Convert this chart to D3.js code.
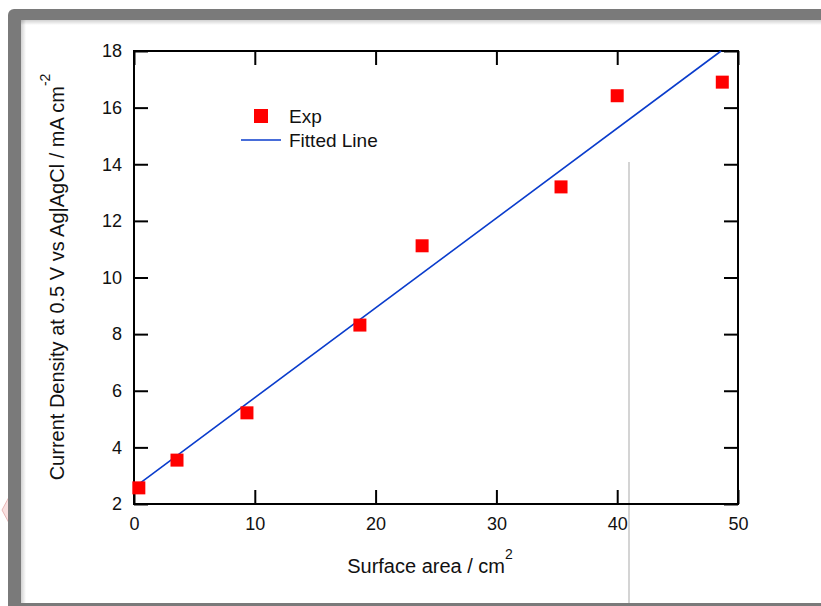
<!DOCTYPE html>
<html>
<head>
<meta charset="utf-8">
<script src="https://cdn.jsdelivr.net/npm/d3@7"></script>
<style>
  body { margin: 0; background: #fff; }
  svg { display: block; font-family: "Liberation Sans", Arial, sans-serif; }
</style>
</head>
<body>
<script>
// data
var areaX = [0.4, 3.56, 9.35, 18.7, 23.85, 35.35, 40.0, 48.7];
var currentY = [2.57, 3.55, 5.22, 8.32, 11.12, 13.2, 16.42, 16.9];
var fitX = [0.5, 48.6];
var fitY = [2.74, 18.0];
var xTicks = [0, 10, 20, 30, 40, 50];
var yTicks = [2, 4, 6, 8, 10, 12, 14, 16, 18];

var width = 821, height = 606;
var plotL = 134, plotR = 738, plotT = 51, plotB = 504;

var svg = d3.select("body").append("svg")
    .attr("width", width)
    .attr("height", height);

var defs = svg.append("defs");
var gTop = defs.append("linearGradient").attr("id", "shTop").attr("x1", 0).attr("y1", 0).attr("x2", 0).attr("y2", 1);
gTop.append("stop").attr("offset", "0%").attr("stop-color", "#000").attr("stop-opacity", 0.18);
gTop.append("stop").attr("offset", "100%").attr("stop-color", "#000").attr("stop-opacity", 0);
var gLeft = defs.append("linearGradient").attr("id", "shLeft").attr("x1", 0).attr("y1", 0).attr("x2", 1).attr("y2", 0);
gLeft.append("stop").attr("offset", "0%").attr("stop-color", "#000").attr("stop-opacity", 0.18);
gLeft.append("stop").attr("offset", "100%").attr("stop-color", "#000").attr("stop-opacity", 0);

// frame around the figure
svg.append("path")
    .attr("d", "M2,510 L9,497 L9,523 Z")
    .attr("fill", "#f8e0e0").attr("stroke", "#e8b8b8");
svg.append("rect")
    .attr("x", 8).attr("y", 9).attr("width", 840).attr("height", 620)
    .attr("rx", 6).attr("fill", "#7a7a7a");
svg.append("rect")
    .attr("x", 21).attr("y", 20).attr("width", 820).attr("height", 583)
    .attr("fill", "#fff");
svg.append("rect").attr("x", 21).attr("y", 20).attr("width", 820).attr("height", 5).attr("fill", "url(#shTop)");
svg.append("rect").attr("x", 21).attr("y", 20).attr("width", 5).attr("height", 583).attr("fill", "url(#shLeft)");
svg.append("line")
    .attr("x1", 629).attr("x2", 629).attr("y1", 162).attr("y2", 603)
    .attr("stroke", "#d4d4d4").attr("stroke-width", 2);

var x = d3.scaleLinear().domain([0, 50]).range([plotL, plotR]);
var y = d3.scaleLinear().domain([2, 18]).range([plotB, plotT]);

var tl = 14;
function styleAxis(g) {
  g.select(".domain").remove();
  g.selectAll(".tick line").attr("stroke", "#000").attr("stroke-width", 2);
  g.selectAll(".tick text").attr("fill", "#111").attr("font-size", 18)
    .attr("font-family", "Liberation Sans, Arial, sans-serif");
}

svg.append("g").attr("transform", "translate(0," + plotB + ")")
  .call(d3.axisTop(x).tickValues(xTicks).tickSize(tl).tickFormat(""))
  .call(styleAxis);
svg.append("g").attr("transform", "translate(0," + plotB + ")")
  .call(d3.axisBottom(x).tickValues(xTicks).tickSize(0).tickPadding(13).tickFormat(d3.format("d")))
  .call(styleAxis);
svg.append("g").attr("transform", "translate(0," + plotT + ")")
  .call(d3.axisBottom(x).tickValues(xTicks).tickSize(tl).tickFormat(""))
  .call(styleAxis);
svg.append("g").attr("transform", "translate(" + plotL + ",0)")
  .call(d3.axisRight(y).tickValues(yTicks).tickSize(tl).tickFormat(""))
  .call(styleAxis);
svg.append("g").attr("transform", "translate(" + plotL + ",0)")
  .call(d3.axisLeft(y).tickValues(yTicks).tickSize(0).tickPadding(12).tickFormat(d3.format("d")))
  .call(styleAxis);
svg.append("g").attr("transform", "translate(" + plotR + ",0)")
  .call(d3.axisLeft(y).tickValues(yTicks).tickSize(tl).tickFormat(""))
  .call(styleAxis);

svg.append("rect")
    .attr("x", plotL).attr("y", plotT).attr("width", plotR - plotL).attr("height", plotB - plotT)
    .attr("fill", "none").attr("stroke", "#000").attr("stroke-width", 2);

// fitted line
var fit = fitX.map(function(d, i) { return [d, fitY[i]]; });
svg.append("path")
    .datum(fit)
    .attr("d", d3.line().x(function(d) { return x(d[0]); }).y(function(d) { return y(d[1]); }))
    .attr("fill", "none").attr("stroke", "#0a3ccc").attr("stroke-width", 1.6);

// experimental points
var ms = 13;
svg.selectAll("rect.pt")
    .data(areaX.map(function(d, i) { return [d, currentY[i]]; }))
    .enter().append("rect")
    .attr("class", "pt")
    .attr("x", function(d) { return x(d[0]) - ms / 2; })
    .attr("y", function(d) { return y(d[1]) - ms / 2; })
    .attr("width", ms).attr("height", ms)
    .attr("fill", "#ff0000");

// legend
svg.append("rect").attr("x", 254).attr("y", 109).attr("width", 14).attr("height", 14).attr("fill", "#ff0000");
svg.append("text").attr("x", 289).attr("y", 123).attr("font-size", 19).attr("fill", "#111").text("Exp");
svg.append("line").attr("x1", 241).attr("x2", 281).attr("y1", 140).attr("y2", 140)
    .attr("stroke", "#0a3ccc").attr("stroke-width", 1.6);
svg.append("text").attr("x", 289).attr("y", 147).attr("font-size", 19).attr("fill", "#111").text("Fitted Line");

// axis titles
var xt = svg.append("text").attr("x", 430).attr("y", 573)
    .attr("text-anchor", "middle").attr("font-size", 20).attr("fill", "#111");
xt.append("tspan").text("Surface area / cm");
xt.append("tspan").attr("dy", -14).attr("font-size", 14).text("2");

var yt = svg.append("text")
    .attr("transform", "translate(64,277) rotate(-90)")
    .attr("text-anchor", "middle").attr("font-size", 20).attr("fill", "#111");
yt.append("tspan").text("Current Density at 0.5 V vs Ag|AgCl / mA cm");
yt.append("tspan").attr("dy", -14).attr("font-size", 14).text("-2");
</script>
</body>
</html>
